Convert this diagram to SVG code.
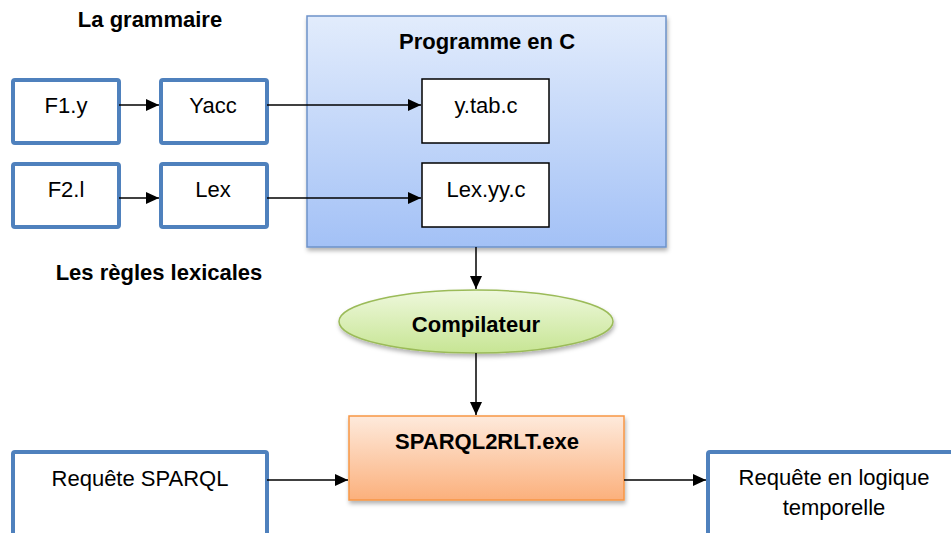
<svg xmlns="http://www.w3.org/2000/svg" width="951" height="533" viewBox="0 0 951 533">
<defs>
<linearGradient id="gBlue" x1="0" y1="0" x2="0" y2="1"><stop offset="0" stop-color="#e2ecfc"/><stop offset="1" stop-color="#a3c1f6"/></linearGradient>
<linearGradient id="gGreen" x1="0" y1="0" x2="0" y2="1"><stop offset="0" stop-color="#eef8dc"/><stop offset="1" stop-color="#c7e594"/></linearGradient>
<linearGradient id="gOrange" x1="0" y1="0" x2="0" y2="1"><stop offset="0" stop-color="#feeadc"/><stop offset="1" stop-color="#fbb07c"/></linearGradient>
<filter id="sh" x="-10%" y="-10%" width="130%" height="130%"><feDropShadow dx="1" dy="3" stdDeviation="2" flood-color="#000" flood-opacity="0.3"/></filter>
<marker id="arr" markerWidth="13" markerHeight="12" refX="13" refY="6" orient="auto" markerUnits="userSpaceOnUse"><path d="M0,0 L13,6 L0,12 Z" fill="#000"/></marker>
<style>
.t{font-family:"Liberation Sans",Arial,sans-serif;font-size:22px;fill:#000;text-anchor:middle}
.b{font-family:"Liberation Sans",Arial,sans-serif;font-size:22px;font-weight:bold;fill:#000;text-anchor:middle}
.bx{fill:#fff;stroke:#4f81bd;stroke-width:4}
.wb{fill:#fff;stroke:#000;stroke-width:1.5}
.c{stroke:#000;stroke-width:1.5;fill:none;marker-end:url(#arr)}
</style>
</defs>
<rect width="951" height="533" fill="#fff"/>
<text class="b" x="150" y="27">La grammaire</text>
<text class="b" x="159" y="280">Les règles lexicales</text>
<g id="prog">
<rect x="307" y="16" width="359" height="231" fill="url(#gBlue)" stroke="#6d92c9" stroke-width="1.5" filter="url(#sh)"/>
<text class="b" x="487" y="49">Programme en C</text>
</g>
<g id="f1y"><rect class="bx" x="13" y="80" width="106" height="63" rx="2"/><text class="t" x="66" y="113">F1.y</text></g>
<g id="yacc"><rect class="bx" x="161" y="80" width="106" height="63" rx="2"/><text class="t" x="213" y="113">Yacc</text></g>
<g id="f2l"><rect class="bx" x="13" y="164" width="106" height="63" rx="2"/><text class="t" x="66" y="197">F2.l</text></g>
<g id="lex"><rect class="bx" x="161" y="164" width="106" height="63" rx="2"/><text class="t" x="213" y="197">Lex</text></g>
<g id="ytab"><rect class="wb" x="422" y="79" width="127" height="64"/><text class="t" x="486" y="113">y.tab.c</text></g>
<g id="lexyy"><rect class="wb" x="422" y="163" width="127" height="64"/><text class="t" x="486" y="197">Lex.yy.c</text></g>
<g id="comp"><ellipse cx="476" cy="321.5" rx="137" ry="31.5" fill="url(#gGreen)" stroke="#9bbb59" stroke-width="1.5" filter="url(#sh)"/><text class="b" x="476" y="332">Compilateur</text></g>
<g id="exe"><rect x="349" y="416" width="275" height="84" fill="url(#gOrange)" stroke="#f79646" stroke-width="1.5" filter="url(#sh)"/><text class="b" x="487" y="449">SPARQL2RLT.exe</text></g>
<g id="req"><rect class="bx" x="13" y="452" width="254" height="90" rx="2"/><text class="t" x="140" y="486">Requête SPARQL</text></g>
<g id="reqlt"><rect class="bx" x="708" y="452" width="260" height="90" rx="2"/><text class="t" x="834" y="485">Requête en logique</text><text class="t" x="834" y="515">temporelle</text></g>
<g id="connectors">
<line class="c" x1="119" y1="105" x2="159" y2="105"/>
<line class="c" x1="119" y1="198" x2="159" y2="198"/>
<line class="c" x1="267" y1="105" x2="421" y2="105"/>
<line class="c" x1="267" y1="198" x2="421" y2="198"/>
<line class="c" x1="476" y1="247" x2="476" y2="289"/>
<line class="c" x1="476" y1="353" x2="476" y2="415"/>
<line class="c" x1="267" y1="480" x2="348" y2="480"/>
<line class="c" x1="624" y1="480" x2="706" y2="480"/>
</g>
</svg>
